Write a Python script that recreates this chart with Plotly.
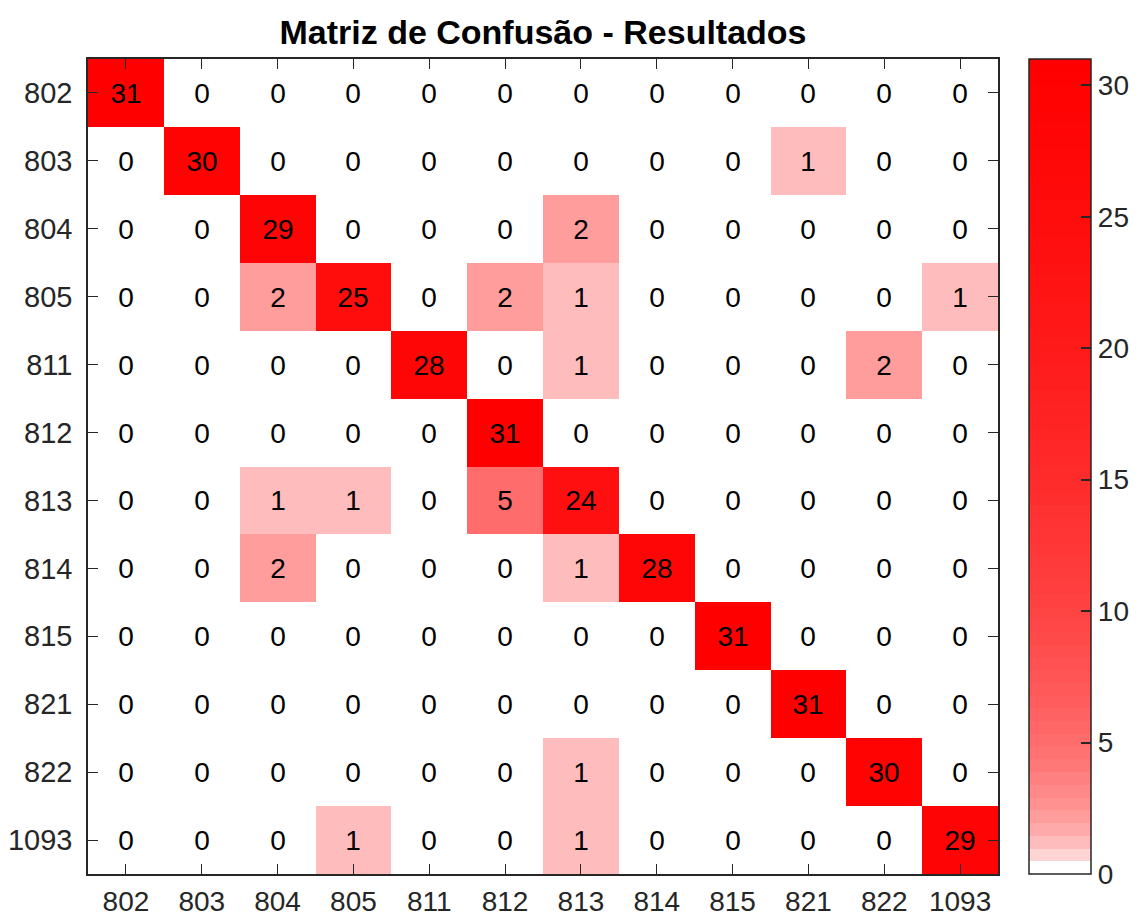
import math
import plotly.graph_objects as go

# Class labels (true class on rows, predicted class on columns)
classes = ["802", "803", "804", "805", "811", "812", "813", "814", "815", "821", "822", "1093"]

# Confusion matrix counts, one list per true class
row_802 = [31, 0, 0, 0, 0, 0, 0, 0, 0, 0, 0, 0]
row_803 = [0, 30, 0, 0, 0, 0, 0, 0, 0, 1, 0, 0]
row_804 = [0, 0, 29, 0, 0, 0, 2, 0, 0, 0, 0, 0]
row_805 = [0, 0, 2, 25, 0, 2, 1, 0, 0, 0, 0, 1]
row_811 = [0, 0, 0, 0, 28, 0, 1, 0, 0, 0, 2, 0]
row_812 = [0, 0, 0, 0, 0, 31, 0, 0, 0, 0, 0, 0]
row_813 = [0, 0, 1, 1, 0, 5, 24, 0, 0, 0, 0, 0]
row_814 = [0, 0, 2, 0, 0, 0, 1, 28, 0, 0, 0, 0]
row_815 = [0, 0, 0, 0, 0, 0, 0, 0, 31, 0, 0, 0]
row_821 = [0, 0, 0, 0, 0, 0, 0, 0, 0, 31, 0, 0]
row_822 = [0, 0, 0, 0, 0, 0, 1, 0, 0, 0, 30, 0]
row_1093 = [0, 0, 0, 1, 0, 0, 1, 0, 0, 0, 0, 29]

z = [row_802, row_803, row_804, row_805, row_811, row_812,
     row_813, row_814, row_815, row_821, row_822, row_1093]

cbar_ticks = [0, 5, 10, 15, 20, 25, 30]
zmax = 31

# 64-step white-to-red map with logarithmic fade
n_steps = 64
colorscale = []
for k in range(n_steps):
    g = round(255 * (1 - math.log(1 + k) / math.log(n_steps)))
    col = f"rgb(255,{g},{g})"
    colorscale.append([k / n_steps, col])
    colorscale.append([(k + 1) / n_steps, col])

axis_col = "#262626"
font_family = "Liberation Sans, Arial, Helvetica, sans-serif"

fig = go.Figure(
    go.Heatmap(
        z=z,
        x=classes,
        y=classes,
        zmin=0,
        zmax=zmax,
        colorscale=colorscale,
        text=z,
        texttemplate="%{text}",
        textfont=dict(family=font_family, size=28, color="black"),
        xgap=0,
        ygap=0,
        hoverinfo="skip",
        colorbar=dict(
            x=1.034,
            xanchor="left",
            xpad=0,
            ypad=0,
            y=0.5,
            yanchor="middle",
            len=1.0,
            lenmode="fraction",
            thickness=62,
            thicknessmode="pixels",
            outlinecolor=axis_col,
            outlinewidth=1.5,
            tickvals=cbar_ticks,
            ticks="inside",
            ticklen=10,
            tickwidth=1.5,
            tickcolor=axis_col,
            tickfont=dict(family=font_family, size=28, color=axis_col),
        ),
    )
)

fig.update_layout(
    width=1140,
    height=920,
    margin=dict(l=88, r=142, t=59, b=46, autoexpand=False),
    paper_bgcolor="white",
    plot_bgcolor="white",
    title=dict(
        text="<b>Matriz de Confusão - Resultados</b>",
        x=0.5,
        xref="paper",
        xanchor="center",
        y=0.965,
        yanchor="middle",
        font=dict(family=font_family, size=34, color="black"),
    ),
)

fig.update_xaxes(
    type="category",
    automargin=False,
    showline=True,
    linecolor=axis_col,
    linewidth=1.5,
    mirror="ticks",
    ticks="inside",
    ticklen=10,
    tickwidth=1.2,
    tickcolor=axis_col,
    ticklabelstandoff=2,
    tickfont=dict(family=font_family, size=28, color=axis_col),
    showgrid=False,
    zeroline=False,
)
fig.update_yaxes(
    type="category",
    automargin=False,
    autorange="reversed",
    showline=True,
    linecolor=axis_col,
    linewidth=1.5,
    mirror="ticks",
    ticks="inside",
    ticklen=10,
    tickwidth=1.2,
    tickcolor=axis_col,
    ticklabelstandoff=8,
    tickfont=dict(family=font_family, size=29, color=axis_col),
    showgrid=False,
    zeroline=False,
)

fig.write_html("out.html")
